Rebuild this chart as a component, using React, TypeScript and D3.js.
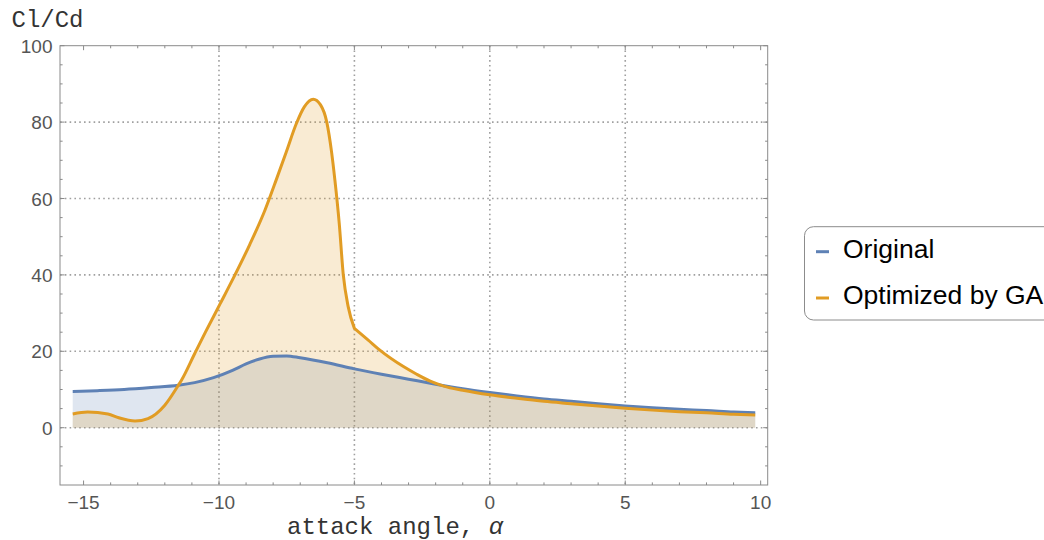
import React from 'react';
import * as d3 from 'd3';

// Lift-to-drag ratio versus angle of attack for the two airfoil profiles
const originalAlpha = [-15.4, -14.5, -13.5, -12.5, -11.5, -10.9, -10.2, -9.5, -9.0, -8.5, -8.0, -7.5, -7.0, -6.0, -5.0, -4.0, -3.0, -2.0, -1.0, 0, 1, 2, 3, 4, 5, 6, 7, 8, 9, 9.8];
const originalRatio = [9.5, 9.7, 10.0, 10.5, 11.1, 11.8, 13.1, 15.0, 16.7, 18.0, 18.7, 18.8, 18.3, 17.0, 15.4, 14.0, 12.7, 11.4, 10.2, 9.2, 8.3, 7.5, 6.9, 6.3, 5.7, 5.2, 4.8, 4.5, 4.1, 3.9];

const optimizedAlpha = [-15.4, -14.85, -14.1, -13.7, -13.1, -12.62, -12.0, -11.51, -11.38, -10.89, -10.5, -9.96, -9.41, -8.86, -8.3, -7.87, -7.5, -7.15, -6.85, -6.52, -6.25, -6.02, -5.84, -5.72, -5.56, -5.41, -5.23, -5.0, -4.5, -4.06, -3.19, -2.7, -2.2, -1.7, -1.0, 0, 1, 2, 3, 4, 5, 6, 7, 8, 9, 9.8];
const optimizedRatio = [3.6, 4.1, 3.6, 2.6, 1.75, 2.4, 5.9, 11.0, 12.5, 19.5, 25.0, 32.4, 40.0, 48.0, 57.0, 65.2, 72.5, 79.5, 84.0, 86.0, 84.5, 80.0, 72.0, 64.8, 53.5, 40.0, 31.7, 26.0, 23.0, 20.3, 16.0, 14.0, 12.2, 10.9, 9.8, 8.6, 7.7, 6.9, 6.3, 5.7, 5.1, 4.6, 4.2, 3.9, 3.5, 3.3];
// the optimized profile changes regime abruptly at this angle
const optimizedBreak = -5.0;

const seriesNames = ['Original', 'Optimized by GA'];
const seriesColors = ['#5E81B5', '#E19C24'];

const xMajorTicks = [-15, -10, -5, 0, 5, 10];
const yMajorTicks = [0, 20, 40, 60, 80, 100];
const xGridLines = [-10, -5, 0, 5];
const yGridLines = [0, 20, 40, 60, 80];

const fmt = (d: number) => (d < 0 ? '\u2212' + Math.abs(d) : String(d));

type Pt = [number, number];

export default function App() {
  const W = 1044;
  const H = 540;
  const left = 60;
  const right = 767.7;
  const top = 45.7;
  const bottom = 485;

  const x = d3.scaleLinear().domain([-15.87, 10.26]).range([left, right]);
  const y = d3.scaleLinear().domain([-15, 100]).range([bottom, top]);

  const xMinor = d3.range(-15, 11, 1).filter((v) => !xMajorTicks.includes(v));
  const yMinor = d3.range(-15, 101, 5).filter((v) => !yMajorTicks.includes(v) && v > -15);

  const line = d3
    .line<Pt>()
    .x((d) => x(d[0]))
    .y((d) => y(d[1]))
    .curve(d3.curveMonotoneX);

  // Smooth line through the points; optional break splits it into two
  // independently smoothed pieces that meet in a corner.
  const linePath = (p: Pt[], brk?: number) => {
    if (brk === undefined) return line(p) || '';
    const a = p.filter((d) => d[0] <= brk);
    const b = p.filter((d) => d[0] >= brk);
    return (line(a) || '') + (line(b) || '').replace(/^M/, 'L');
  };
  const areaPath = (p: Pt[], brk?: number) => {
    const first = p[0];
    const last = p[p.length - 1];
    return linePath(p, brk) + `L${x(last[0])},${y(0)}L${x(first[0])},${y(0)}Z`;
  };

  const series = [
    { pts: originalAlpha.map((a, i) => [a, originalRatio[i]] as Pt), brk: undefined as number | undefined },
    { pts: optimizedAlpha.map((a, i) => [a, optimizedRatio[i]] as Pt), brk: optimizedBreak },
  ];

  const frameColor = '#8a8a8a';
  const gridColor = '#a0a0a0';
  const tickLabelColor = '#555';

  return (
    <svg width={W} height={H} style={{ position: 'absolute', left: 0, top: 0, background: '#fff' }}>
      <defs>
        <clipPath id="plotClip">
          <rect x={left} y={top} width={right - left} height={bottom - top} />
        </clipPath>
      </defs>

      {/* grid */}
      <g stroke={gridColor} strokeWidth={1.6} strokeDasharray="1.6,3.2" fill="none">
        {xGridLines.map((v) => (
          <line key={'gx' + v} x1={x(v)} x2={x(v)} y1={top} y2={bottom} />
        ))}
        {yGridLines.map((v) => (
          <line key={'gy' + v} x1={left} x2={right} y1={y(v)} y2={y(v)} />
        ))}
      </g>

      {/* filled areas down to zero, then the curves */}
      <g clipPath="url(#plotClip)">
        {series.map((s, i) => (
          <path key={'a' + i} d={areaPath(s.pts, s.brk)} fill={seriesColors[i]} fillOpacity={0.2} stroke="none" />
        ))}
        {series.map((s, i) => (
          <path
            key={'l' + i}
            d={linePath(s.pts, s.brk)}
            fill="none"
            stroke={seriesColors[i]}
            strokeWidth={3}
            strokeLinejoin="round"
          />
        ))}
      </g>

      {/* frame */}
      <rect x={left} y={top} width={right - left} height={bottom - top} fill="none" stroke={frameColor} strokeWidth={1} />

      {/* ticks on all four sides, pointing inward */}
      <g stroke={frameColor} strokeWidth={1}>
        {xMajorTicks.map((v) => (
          <g key={'xt' + v}>
            <line x1={x(v)} x2={x(v)} y1={bottom} y2={bottom - 4.5} />
            <line x1={x(v)} x2={x(v)} y1={top} y2={top + 4.5} />
          </g>
        ))}
        {xMinor.map((v) => (
          <g key={'xm' + v}>
            <line x1={x(v)} x2={x(v)} y1={bottom} y2={bottom - 2.6} />
            <line x1={x(v)} x2={x(v)} y1={top} y2={top + 2.6} />
          </g>
        ))}
        {yMajorTicks.map((v) => (
          <g key={'yt' + v}>
            <line x1={left} x2={left + 4.5} y1={y(v)} y2={y(v)} />
            <line x1={right} x2={right - 4.5} y1={y(v)} y2={y(v)} />
          </g>
        ))}
        {yMinor.map((v) => (
          <g key={'ym' + v}>
            <line x1={left} x2={left + 2.6} y1={y(v)} y2={y(v)} />
            <line x1={right} x2={right - 2.6} y1={y(v)} y2={y(v)} />
          </g>
        ))}
      </g>

      {/* tick labels */}
      <g fontFamily="'Liberation Sans', Arial, sans-serif" fontSize={19} fill={tickLabelColor}>
        {xMajorTicks.map((v) => (
          <text key={'xl' + v} x={x(v)} y={508.5} textAnchor="middle">
            {fmt(v)}
          </text>
        ))}
        {yMajorTicks.map((v) => (
          <text key={'yl' + v} x={52.5} y={y(v) + 7} textAnchor="end">
            {fmt(v)}
          </text>
        ))}
      </g>

      {/* axis labels */}
      <g fontFamily="'Liberation Mono', 'Courier New', monospace" fontSize={24} fill="#333">
        <text x={11.5} y={27.3}>Cl/Cd</text>
        <text x={287} y={533.5}>
          attack angle, <tspan fontStyle="italic">α</tspan>
        </text>
      </g>

      {/* legend */}
      <g>
        <rect x={804.5} y={226.7} width={300} height={93.3} rx={9} ry={9} fill="#fff" stroke="#8c8c8c" strokeWidth={1} />
        {seriesNames.map((name, i) => (
          <g key={'lg' + i}>
            <line
              x1={816}
              x2={829}
              y1={251.7 + i * 46.3}
              y2={251.7 + i * 46.3}
              stroke={seriesColors[i]}
              strokeWidth={3}
            />
            <text
              x={843}
              y={257.7 + i * 46.3}
              fontFamily="'Liberation Sans', Arial, sans-serif"
              fontSize={26.5}
              fill="#000"
            >
              {name}
            </text>
          </g>
        ))}
      </g>
    </svg>
  );
}
